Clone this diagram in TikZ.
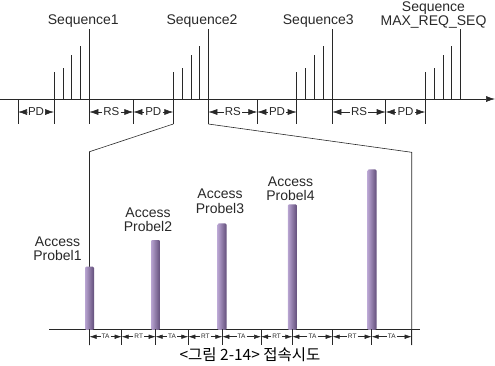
\documentclass[tikz,border=0pt]{standalone}
\usepackage{fontspec}
\setmainfont{Liberation Sans}
\newfontfamily\krfont{Noto Sans CJK KR}
\usetikzlibrary{arrows.meta}
\definecolor{barlight}{RGB}{185,165,210}
\definecolor{barmid}{RGB}{155,128,185}
\definecolor{bardark}{RGB}{98,78,122}
\definecolor{linegray}{RGB}{40,40,40}
\tikzset{
  seqlabel/.style={font=\fontsize{14}{14.5}\selectfont,align=center,inner sep=0pt},
  gaplabel/.style={font=\fontsize{11.5}{12}\selectfont,inner sep=1pt},
  slotlabel/.style={font=\fontsize{6.5}{7}\selectfont,inner sep=0.8pt},
  gaptip/.style={-{Latex[length=9pt,width=6pt]}},
  slottip/.style={-{Latex[length=7pt,width=4.5pt]},line width=0.5pt},
}
\begin{document}
\begin{tikzpicture}[x=1pt,y=1pt,line width=0.6pt,color=linegray]
\useasboundingbox (0,0) rectangle (495,-365);
% upper time axis
\coordinate (U0) at (0,-99);
\coordinate (U1) at (495,-99);
\draw[-{Latex[length=9pt,width=6pt]}] (U0) -- (U1);
% probe sequences
\foreach \s in {54,173.3,296.7,425.3}{
  \foreach \dx/\top in {0/71.7,8.8/68,17.6/55,26.4/46,35.2/29.3}
    \draw (\s+\dx,-99) -- (\s+\dx,-\top);
}
% gap ticks
\foreach \t/\n in {18/a,54/b,89.3/c,133.3/d,173.3/e,208.3/f,257.3/g,296.7/h,332.3/i,385.7/j,425.3/k}{
  \coordinate (T\n) at (\t,-112);
  \draw (\t,-99) -- (\t,-124);
}
\foreach \a/\b/\txt/\k in {a/b/PD/1,c/d/RS/2,d/e/PD/3,f/g/RS/4,g/h/PD/5,i/j/RS/6,j/k/PD/7}{
  \path (T\a) -- node[gaplabel] (g\k) {\txt} (T\b);
  \draw[gaptip] (g\k) -- (T\a);
  \draw[gaptip] (g\k) -- (T\b);
}
\node[seqlabel] (S1) at (83.3,-20.7) {Sequence1};
\node[seqlabel] (S2) at (202,-20.7) {Sequence2};
\node[seqlabel] (S3) at (318.3,-20.7) {Sequence3};
\node[seqlabel] (S4) at (433.5,-15) {Sequence\\MAX\_REQ\_SEQ};
% zoom lines
\draw (173.3,-124) -- (89.5,-151.7) -- (89.5,-345);
\draw (208.3,-124) -- (411.7,-152.3) -- (411.7,-345);
% lower time axis
\coordinate (L0) at (49,-329.3);
\coordinate (L1) at (420,-329.3);
\draw (L0) -- (L1);
% access probes
\foreach \c/\top in {89.5/266.7,155.5/240,222/223.3,292.3/204.3,372/169.3}{
  \shade[left color=barlight,middle color=barmid,right color=bardark,rounded corners=1.2pt]
    (\c-4.5,-\top) rectangle (\c+4.5,-329.8);
}
\node[seqlabel] (P1) at (57.5,-248.5) {Access\\Probel1};
\node[seqlabel] (P2) at (148,-219.5) {Access\\Probel2};
\node[seqlabel] (P3) at (220,-201.2) {Access\\Probel3};
\node[seqlabel] (P4) at (290.5,-188.8) {Access\\Probel4};
% slot ticks
\foreach \t/\n in {89.5/a,121.7/b,155.7/c,188.3/d,222.3/e,261/f,292.3/g,332.7/h,371.7/i,411.7/j}{
  \coordinate (B\n) at (\t,-336.7);
  \draw[line width=0.5pt] (\t,-329.3) -- (\t,-345);
}
\foreach \a/\b/\txt/\k in {a/b/TA/1,b/c/RT/2,c/d/TA/3,d/e/RT/4,e/f/TA/5,f/g/RT/6,g/h/TA/7,h/i/RT/8,i/j/TA/9}{
  \path (B\a) -- node[slotlabel] (s\k) {\txt} (B\b);
  \draw[slottip] (s\k) -- (B\a);
  \draw[slottip] (s\k) -- (B\b);
}
\node[font=\krfont\fontsize{15.5}{16}\selectfont,inner sep=0pt,text=black] (cap) at (250,-355) {<그림 2-14> 접속시도};
\end{tikzpicture}
\end{document}
